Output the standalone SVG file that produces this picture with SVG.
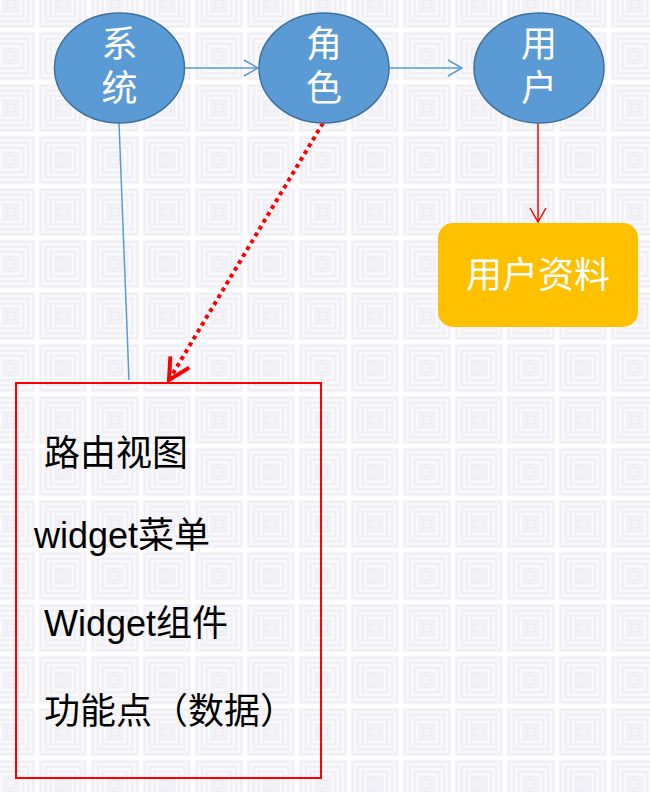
<svg xmlns="http://www.w3.org/2000/svg" width="650" height="792" viewBox="0 0 650 792">
  <defs>
    <pattern id="bgTile" patternUnits="userSpaceOnUse" x="-15" y="-22" width="52" height="52">
      <rect width="52" height="52" fill="#f5f5f9"/>
      <g fill="none">
        <rect x="1" y="1" width="50" height="50" stroke="#fefeff" stroke-width="2"/>
        <rect x="4" y="4" width="44" height="44" stroke="#ececf3" stroke-width="1"/>
        <rect x="6" y="6" width="40" height="40" stroke="#fcfcfe" stroke-width="1.2"/>
        <rect x="9" y="9" width="34" height="34" stroke="#ececf3" stroke-width="1"/>
        <rect x="11" y="11" width="30" height="30" stroke="#fcfcfe" stroke-width="1.2"/>
        <rect x="14" y="14" width="24" height="24" stroke="#ececf3" stroke-width="1"/>
        <rect x="16" y="16" width="20" height="20" stroke="#fcfcfe" stroke-width="1.2"/>
        <rect x="19" y="19" width="14" height="14" stroke="#eaeaf2" stroke-width="1"/>
        <rect x="22" y="22" width="8" height="8" stroke="#e8e8f0" stroke-width="1"/>
      </g>
    </pattern>
    <marker id="arrowBlue" viewBox="0 0 16 18" refX="15" refY="9" markerWidth="16" markerHeight="18" markerUnits="userSpaceOnUse" orient="auto">
      <path d="M1,1 L15,9 L1,17" fill="none" stroke="#5b9bd5" stroke-width="1.5"/>
    </marker>
    <marker id="arrowRed" viewBox="0 0 18 18" refX="16" refY="9" markerWidth="18" markerHeight="18" markerUnits="userSpaceOnUse" orient="auto">
      <path d="M2,1 L16,9 L2,17" fill="none" stroke="#ff0000" stroke-width="1.5"/>
    </marker>
    <marker id="arrowRedBold" viewBox="0 0 26 26" refX="23" refY="13" markerWidth="26" markerHeight="26" markerUnits="userSpaceOnUse" orient="auto">
      <path d="M2,2 L23,13 L2,24" fill="none" stroke="#ff0000" stroke-width="4"/>
    </marker>
    <style>
      .circle { fill: #5b9bd5; stroke: #41719c; stroke-width: 1.5; }
      .ctext { fill: #ffffff; font-family: "Liberation Sans", "Noto Sans CJK SC", sans-serif; font-size: 36px; text-anchor: middle; }
      .btext { fill: #000000; font-family: "Liberation Sans", "Noto Sans CJK SC", sans-serif; font-size: 36px; }
      .blue { stroke: #5b9bd5; stroke-width: 1.5; fill: none; }
    </style>
  </defs>

  <rect width="650" height="792" fill="url(#bgTile)"/>

  <g id="connectors">
    <line class="blue" x1="185" y1="68" x2="258" y2="68" marker-end="url(#arrowBlue)"/>
    <line class="blue" x1="389" y1="68" x2="462" y2="68" marker-end="url(#arrowBlue)"/>
    <line class="blue" x1="119" y1="123" x2="129" y2="380"/>
    <line x1="323" y1="123" x2="169" y2="380" stroke="#ff0000" stroke-width="4" stroke-dasharray="4 4" marker-end="url(#arrowRedBold)"/>
    <line x1="538" y1="123" x2="538" y2="222" stroke="#ff0000" stroke-width="1.5" marker-end="url(#arrowRed)"/>
  </g>

  <g id="node-system">
    <ellipse class="circle" cx="119.5" cy="68" rx="65" ry="55"/>
    <text class="ctext" x="119.5" y="57">系</text>
    <text class="ctext" x="119.5" y="101">统</text>
  </g>

  <g id="node-role">
    <ellipse class="circle" cx="324" cy="68" rx="65" ry="55"/>
    <text class="ctext" x="324" y="57">角</text>
    <text class="ctext" x="324" y="101">色</text>
  </g>

  <g id="node-user">
    <ellipse class="circle" cx="539" cy="68" rx="65" ry="55"/>
    <text class="ctext" x="539" y="57">用</text>
    <text class="ctext" x="539" y="101">户</text>
  </g>

  <g id="node-profile">
    <rect x="438" y="223" width="200" height="104" rx="15" ry="15" fill="#ffc000"/>
    <text class="ctext" x="538" y="288">用户资料</text>
  </g>

  <g id="node-permissions">
    <rect x="16" y="383" width="305" height="395" fill="none" stroke="#ff0000" stroke-width="2"/>
    <text class="btext" x="44" y="466">路由视图</text>
    <text class="btext" x="34" y="548">widget菜单</text>
    <text class="btext" x="44" y="636">Widget组件</text>
    <text class="btext" x="44" y="724">功能点（数据）</text>
  </g>
</svg>
